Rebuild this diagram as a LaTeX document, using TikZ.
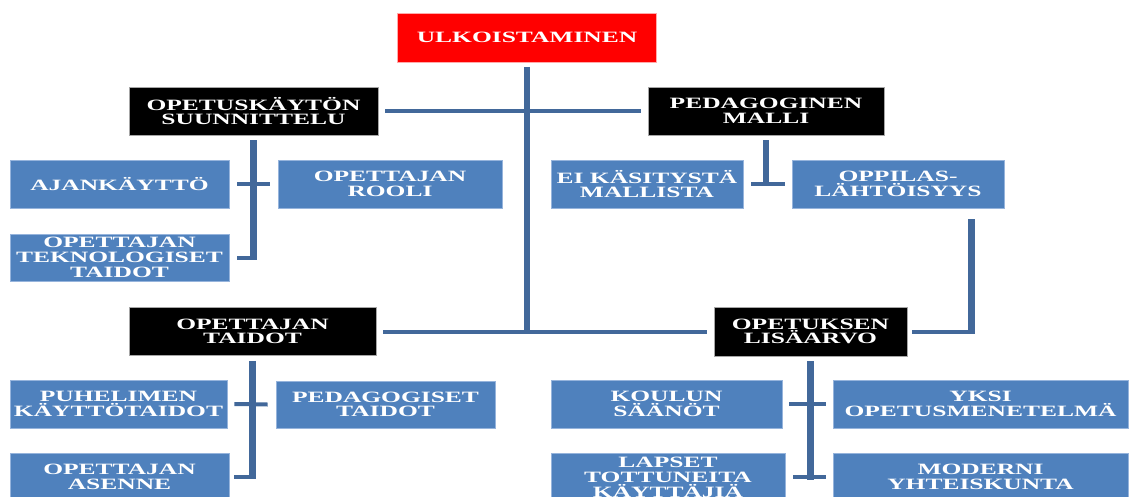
\documentclass[tikz,border=0pt]{standalone}
\usepackage{fontspec}
\newfontfamily\boxfont{Liberation Serif}[FakeStretch=1.62]
\usetikzlibrary{calc}
\definecolor{boxblue}{RGB}{79,129,189}
\definecolor{boxedge}{RGB}{150,180,220}
\definecolor{linkblue}{RGB}{66,104,154}
\definecolor{rootred}{RGB}{255,0,0}
\definecolor{rootedge}{RGB}{255,170,170}
\begin{document}
\begin{tikzpicture}[x=0.75pt,y=-0.75pt,
  lbl/.style={font=\boxfont\bfseries\fontsize{11.8}{10.9}\selectfont,
              text=white, align=center, inner sep=0pt},
  threelines/.style={font=\boxfont\bfseries\fontsize{11.8}{11.25}\selectfont},
  dims/.style 2 args={minimum width=#1*0.75pt, minimum height=#2*0.75pt},
  rootbox/.style={lbl, fill=rootred, draw=rootedge, line width=0.6pt},
  head/.style={lbl, fill=black, draw=gray!70, line width=0.6pt},
  topic/.style={lbl, fill=boxblue, draw=boxedge, line width=0.6pt},
  vl/.style={draw=linkblue, line width=4.9pt},
  hl/.style={draw=linkblue, line width=3pt}]
\useasboundingbox (0,0) rectangle (1130,496);

% top node
\node[rootbox, dims={259}{49}] (root) at (527,37.5) {ULKOISTAMINEN};

% four main branches
\node[head, dims={249}{48}] (suun)  at (253.5,111) {OPETUSKÄYTÖN\\SUUNNITTELU};
\node[head, dims={236}{48}] (peda)  at (766,111)   {PEDAGOGINEN\\MALLI};
\node[head, dims={247}{48}] (otaid) at (252.5,331.5) {OPETTAJAN\\TAIDOT};
\node[head, dims={193}{49}] (lisa)  at (810.5,331.5) {OPETUKSEN\\LISÄARVO};

% leaves of the planning branch
\node[topic, dims={219}{48}] (ajan)  at (119.5,184) {AJANKÄYTTÖ};
\node[topic, dims={224}{48}] (rooli) at (390,184)   {OPETTAJAN\\ROOLI};
\node[topic, threelines, dims={219}{47}] (tekno) at (119.5,257.5) {OPETTAJAN\\TEKNOLOGISET\\TAIDOT};

% leaves of the pedagogical model
\node[topic, dims={192}{48}] (eikas) at (647,184) {EI KÄSITYSTÄ\\MALLISTA};
\node[topic, dims={212}{48}] (oppi)  at (898,184) {OPPILAS-\\LÄHTÖISYYS};

% leaves of teacher skills
\node[topic, dims={217}{48}] (puhe) at (118.5,404) {PUHELIMEN\\KÄYTTÖTAIDOT};
\node[topic, dims={219}{47}] (pedt) at (385.5,404.5) {PEDAGOGISET\\TAIDOT};
\node[topic, dims={219}{48}] (asen) at (119.5,477) {OPETTAJAN\\ASENNE};

% leaves of added value
\node[topic, dims={231}{48}] (koul) at (666.5,404) {KOULUN\\SÄÄNÖT};
\node[topic, dims={295}{48}] (yksi) at (980.5,404) {YKSI\\OPETUSMENETELMÄ};
\node[topic, threelines, dims={234}{48}] (laps) at (668,477) {LAPSET\\TOTTUNEITA\\KÄYTTÄJIÄ};
\node[topic, dims={295}{48}] (mode) at (980.5,477) {MODERNI\\YHTEISKUNTA};

% trunk and the two cross bars
\coordinate (hub) at (root.south |- otaid.east);
\draw[vl] ($(root.south)+(0,4.5)$) -- ($(hub)+(0,2)$);
\draw[hl] ($(suun.east)+(7,0)$) -- ($(peda.west)+(-7,0)$);
\draw[hl] ($(otaid.east)+(7,0)$) -- ($(lisa.west)+(-7,0)$);

% planning branch
\draw[vl] ($(suun.south)+(0,5)$) -- ($(suun.south |- tekno.east)+(0,1.5)$);
\draw[hl] ($(tekno.east)+(8,0)$) -- ($(suun.south |- tekno.east)+(3.25,0)$);
\draw[hl] ($(ajan.east)+(8,0)$) -- ($(rooli.west)+(-8,0)$);

% pedagogical model branch
\draw[vl] ($(peda.south)+(0,5)$) -- ($(peda.south |- eikas.east)+(0,1.5)$);
\draw[hl] ($(eikas.east)+(8,0)$) -- ($(oppi.west)+(-7,0)$);

% learner-centredness feeds the added value
\coordinate (drop) at ($(oppi.south east)+(-33,11)$);
\draw[vl] (drop) -- ($(drop |- lisa.east)+(0,1.5)$);
\draw[hl] ($(lisa.east)+(5,0)$) -- ($(drop |- lisa.east)+(3.25,0)$);

% teacher skills branch
\draw[vl] ($(otaid.south)+(0,5)$) -- ($(otaid.south |- asen.east)+(0,1.5)$);
\draw[hl] ($(asen.east)+(5,0)$) -- ($(otaid.south |- asen.east)+(3.25,0)$);
\draw[hl] ($(puhe.east)+(7,0)$) -- ($(pedt.west)+(-8,0)$);

% added value branch
\draw[vl] ($(lisa.south)+(0,5)$) -- ($(lisa.south |- laps.east)+(0,3)$);
\draw[hl] ($(koul.east)+(7,0)$) -- ($(yksi.west)+(-7,0)$);
\draw[hl] ($(laps.east)+(8,0)$) -- ($(mode.west)+(-7,0)$);
\end{tikzpicture}
\end{document}
